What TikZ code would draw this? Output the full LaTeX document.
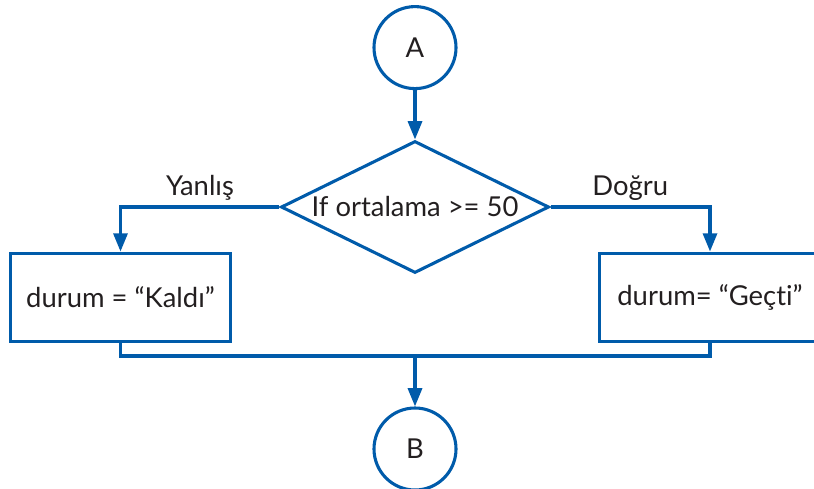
\documentclass[tikz,border=0pt]{standalone}
\usepackage{fontspec}
\setmainfont{Lato}[Ligatures=NoCommon]
\usepackage{xcolor}
\definecolor{flowblue}{HTML}{005BAA}
\definecolor{inkgray}{HTML}{231F20}
\usepackage{tikz}
\usetikzlibrary{arrows.meta, shapes.geometric}

\begin{document}
\begin{tikzpicture}[
  every node/.style={font=\fontsize{19.5}{22}\selectfont, text=inkgray},
  con/.style={draw=flowblue, line width=2.2pt, circle, minimum size=2.05cm, inner sep=0pt},
  decide/.style={draw=flowblue, line width=2.2pt, diamond, aspect=2,
                 minimum width=6.7cm, minimum height=3.3cm, inner sep=0pt},
  box/.style={draw=flowblue, line width=2.2pt, rectangle,
              minimum width=5.52cm, minimum height=2.22cm, inner sep=2pt},
  lab/.style={above=0pt},
  line/.style={draw=flowblue, line width=2.2pt},
  arr/.style={line, -{Triangle[width=10pt, length=13pt]}}]
  \clip (0,0) rectangle (20.35,12.2);
  \node[con]    (conA)  at (10.375,11.01)  {A};
  \node[decide] (dec)   at (10.375,7.025)  {If ortalama >= 50};
  \node[box]    (kaldi) at (3.0125,4.7625) {durum = “Kaldı”};
  \node[box]    (gecti) at (17.75,4.7625)  {durum= “Geçti”};
  \node[con]    (conB)  at (10.375,0.975)  {B};
  \coordinate   (join)  at (10.375,3.3);
  \draw[arr] (conA) -- (dec);
  \draw[arr] (dec.west) -| node[lab, pos=0.25] {Yanlış} (kaldi.north);
  \draw[arr] (dec.east) -| node[lab, pos=0.25] {Doğru} (gecti.north);
  \draw[line] (kaldi.south) |- (join) -| (gecti.south);
  \draw[arr] (join) -- (conB);
\end{tikzpicture}
\end{document}
